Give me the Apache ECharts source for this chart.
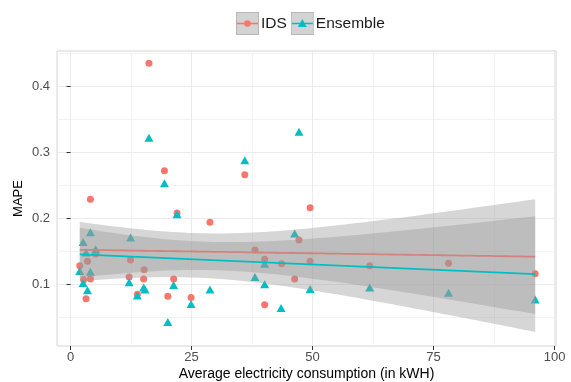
<!DOCTYPE html>
<html><head><meta charset="utf-8">
<script src="https://cdn.jsdelivr.net/npm/echarts@6/dist/echarts.min.js"></script>
<style>html,body{margin:0;padding:0;background:#fff}#c{width:571px;height:382px}</style>
</head><body><div id="c"></div>
<script>
// ---- data ----
const seriesNames = ['IDS', 'Ensemble'];
const idsX = [1.9, 2.7, 3.2, 3.5, 4.1, 4.1, 5.2, 12.1, 12.4, 13.8, 15.1, 15.2, 16.2, 19.4, 20.1, 21.3, 22.0, 24.9, 28.8, 36.0, 38.1, 40.1, 40.1, 43.6, 46.3, 47.2, 49.5, 49.5, 61.8, 78.1, 96.0];
const idsY = [0.128, 0.107, 0.078, 0.135, 0.229, 0.108, 0.146, 0.111, 0.137, 0.085, 0.108, 0.122, 0.435, 0.272, 0.082, 0.108, 0.208, 0.080, 0.194, 0.266, 0.152, 0.138, 0.069, 0.131, 0.108, 0.167, 0.216, 0.135, 0.128, 0.132, 0.116];
const ensX = [1.9, 2.6, 2.6, 3.2, 3.5, 4.1, 4.1, 5.2, 12.1, 12.4, 13.8, 15.1, 15.4, 16.2, 19.4, 20.1, 21.3, 22.0, 24.9, 28.8, 36.0, 38.1, 40.1, 40.1, 43.5, 46.3, 47.2, 49.5, 61.8, 78.1, 96.0];
const ensY = [0.120, 0.164, 0.102, 0.148, 0.091, 0.179, 0.119, 0.153, 0.103, 0.171, 0.083, 0.095, 0.092, 0.322, 0.253, 0.043, 0.099, 0.206, 0.070, 0.092, 0.288, 0.111, 0.131, 0.100, 0.064, 0.177, 0.331, 0.093, 0.095, 0.087, 0.077];
const xTicks = [0, 25, 50, 75, 100];
const xMinor = [12.5, 37.5, 62.5, 87.5];
const yTicks = [0.1, 0.2, 0.3, 0.4];
const yMinor = [0.05, 0.15, 0.25, 0.35, 0.45];
const xTitle = 'Average electricity consumption (in kWH)';
const yTitle = 'MAPE';

const RED = '#F8766D', TEAL = '#00BFC4';

// ---- linear model fit with 95% confidence band (as geom_smooth(method="lm")) ----
function tq975(df) {
  const z = 1.959964;
  return z + (z**3 + z) / (4 * df) + (5 * z**5 + 16 * z**3 + 3 * z) / (96 * df * df)
    + (3 * z**7 + 19 * z**5 + 17 * z**3 - 15 * z) / (384 * df ** 3);
}
function lmFit(xs, ys) {
  const n = xs.length;
  const mx = xs.reduce((a, b) => a + b, 0) / n;
  const my = ys.reduce((a, b) => a + b, 0) / n;
  let sxx = 0, sxy = 0;
  for (let i = 0; i < n; i++) { sxx += (xs[i] - mx) ** 2; sxy += (xs[i] - mx) * (ys[i] - my); }
  const b = sxy / sxx, a = my - b * mx;
  let sse = 0;
  for (let i = 0; i < n; i++) sse += (ys[i] - a - b * xs[i]) ** 2;
  const s = Math.sqrt(sse / (n - 2));
  const t = tq975(n - 2);
  const lo = Math.min(...xs), hi = Math.max(...xs);
  const out = [];
  for (let k = 0; k < 80; k++) {
    const x = lo + (hi - lo) * k / 79;
    const f = a + b * x;
    const se = s * Math.sqrt(1 / n + (x - mx) ** 2 / sxx);
    out.push([x, f, f - t * se, f + t * se]);
  }
  return out;
}
const idsFit = lmFit(idsX, idsY);
const ensFit = lmFit(ensX, ensY);

function ribbon(fit, z) {
  return {
    type: 'custom', xAxisIndex: 0, yAxisIndex: 0, silent: true, z: z,
    data: [0],
    renderItem: function (params, api) {
      const pts = [];
      fit.forEach(p => pts.push(api.coord([p[0], p[3]])));
      for (let i = fit.length - 1; i >= 0; i--) pts.push(api.coord([fit[i][0], fit[i][2]]));
      return { type: 'polygon', shape: { points: pts }, style: { fill: 'rgba(153,153,153,0.4)' } };
    }
  };
}

function keySvg(color, shape) {
  const mark = shape === 'circle'
    ? `<circle cx='11.5' cy='11.5' r='3.3' fill='${color}'/>`
    : `<polygon points='11.5,7 16,15 7,15' fill='${color}'/>`;
  const svg = `<svg xmlns='http://www.w3.org/2000/svg' width='23' height='23'>`
    + `<rect x='0.5' y='0.5' width='22' height='22' fill='#d3d3d3' stroke='#b8b8b8'/>`
    + `<line x1='1' y1='11.5' x2='22' y2='11.5' stroke='${color}' stroke-width='1.6'/>` + mark + `</svg>`;
  return 'image://data:image/svg+xml;charset=utf-8,' + encodeURIComponent(svg);
}

const chart = echarts.init(document.getElementById('c'), null, { renderer: 'canvas' });
const font = 'Liberation Sans, Arial, Helvetica, sans-serif';
const XMIN = -2.8, XMAX = 100.3, YMIN = 0.0065, YMAX = 0.4535;

chart.setOption({
  animation: false,
  backgroundColor: '#ffffff',
  textStyle: { fontFamily: font },
  legend: {
    top: 12, left: 236, padding: 0, itemWidth: 23, itemHeight: 23, itemGap: 4,
    textStyle: { fontSize: 15.5, color: '#1a1a1a', fontFamily: font, padding: [0, 0, 0, -3] },
    data: [
      { name: seriesNames[0], icon: keySvg(RED, 'circle') },
      { name: seriesNames[1], icon: keySvg(TEAL, 'triangle') }
    ]
  },
  grid: { left: 57, right: 15, top: 51, bottom: 36, show: true, borderColor: '#d4d4d4', borderWidth: 1,
    containLabel: false, outerBoundsMode: 'none' },
  xAxis: [
    {
      type: 'value', min: XMIN, max: XMAX,
      name: xTitle, nameLocation: 'middle', nameGap: 21, nameMoveOverlap: false,
      nameTextStyle: { fontSize: 14, color: '#000', fontFamily: font },
      axisLine: { show: false },
      axisTick: { show: true, length: 4, customValues: xTicks, lineStyle: { color: '#333' } },
      axisLabel: { customValues: xTicks, fontSize: 13, color: '#4d4d4d', margin: 5, fontFamily: font },
      splitLine: { show: true, lineStyle: { color: '#ebebeb', width: 1 } }
    },
    {
      type: 'value', min: XMIN, max: XMAX, position: 'bottom',
      axisLine: { show: false }, axisLabel: { show: false },
      axisTick: { show: false, customValues: xMinor },
      splitLine: { show: true, lineStyle: { color: '#f3f3f3', width: 1 } }
    }
  ],
  yAxis: [
    {
      type: 'value', min: YMIN, max: YMAX,
      name: yTitle, nameLocation: 'middle', nameGap: 32, nameMoveOverlap: false,
      nameTextStyle: { fontSize: 13, color: '#000', fontFamily: font },
      axisLine: { show: false },
      axisTick: { show: true, length: 4, customValues: yTicks, lineStyle: { color: '#333' } },
      axisLabel: { customValues: yTicks, fontSize: 13, color: '#4d4d4d', margin: 7, fontFamily: font,
        formatter: v => (Math.round(v * 10) / 10).toFixed(1) },
      splitLine: { show: true, lineStyle: { color: '#ebebeb', width: 1 } }
    },
    {
      type: 'value', min: YMIN, max: YMAX, position: 'left',
      axisLine: { show: false }, axisLabel: { show: false },
      axisTick: { show: false, customValues: yMinor },
      splitLine: { show: true, lineStyle: { color: '#f3f3f3', width: 1 } }
    }
  ],
  series: [
    { name: seriesNames[0], type: 'scatter', symbol: 'circle', symbolSize: 7, z: 1,
      itemStyle: { color: RED, opacity: 1 },
      data: idsX.map((x, i) => [x, idsY[i]]) },
    { name: seriesNames[1], type: 'scatter', symbol: 'triangle', symbolSize: [9, 8], z: 1,
      itemStyle: { color: TEAL, opacity: 1 },
      data: ensX.map((x, i) => [x, ensY[i]]) },
    ribbon(idsFit, 2),
    { type: 'line', showSymbol: false, silent: true, z: 3, data: idsFit.map(p => [p[0], p[1]]),
      lineStyle: { color: RED, width: 1.8 } },
    ribbon(ensFit, 4),
    { type: 'line', showSymbol: false, silent: true, z: 5, data: ensFit.map(p => [p[0], p[1]]),
      lineStyle: { color: TEAL, width: 1.8 } }
  ]
});
</script>
</body></html>
